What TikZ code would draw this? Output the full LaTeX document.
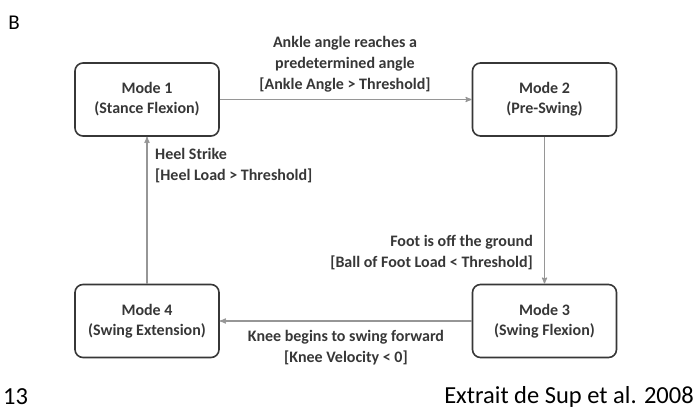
\documentclass[tikz,border=0pt]{standalone}
\usepackage{fontspec}
\setmainfont{Carlito}
\usepackage{tikz}
\usetikzlibrary{arrows}
\usetikzlibrary{positioning}
\definecolor{boxgray}{RGB}{55,55,55}
\definecolor{linegray}{RGB}{150,150,150}
\definecolor{textgray}{RGB}{55,55,55}
\tikzstyle{every node}+=[inner sep=0pt]
\tikzstyle{mode} = [rectangle, draw=boxgray, line width=1.6pt, rounded corners=8pt, minimum width=144pt, minimum height=73pt, text centered, text=textgray, font=\fontsize{16}{20}\selectfont\bfseries]
\tikzstyle{line} = [draw=linegray, line width=1.2pt, -stealth']
\tikzstyle{cond} = [text=textgray, font=\fontsize{16}{21}\selectfont\bfseries]
\tikzstyle{note} = [font=\fontsize{24.5}{28}\selectfont]

\begin{document}
\begin{tikzpicture}[x=1pt, y=-1pt, node distance=397.5pt, every text node part/.style={align=center}]
            \useasboundingbox (0,0) rectangle (700,410);
            % Place nodes
            \node [mode] (m1) at (147,99.5) {Mode 1\\(Stance Flexion)};
            \node [mode, right of=m1] (m2) {Mode 2\\(Pre-Swing)};
            \node [mode, below of=m2, node distance=221.5pt] (m3) {Mode 3\\(Swing Flexion)};
            \node [mode, below of=m1, node distance=221.5pt] (m4) {Mode 4\\(Swing Extension)};
            % Conditions
            \node [cond] (c12) at (345,64) {Ankle angle reaches a\\predetermined angle\\{[}Ankle Angle > Threshold{]}};
            \node [cond, anchor=east, every text node part/.style={align=right}] (c23) at (533,253) {Foot is off the ground\\{[}Ball of Foot Load < Threshold{]}};
            \node [cond] (c34) at (346,348) {Knee begins to swing forward\\{[}Knee Velocity < 0{]}};
            \node [cond, anchor=west, every text node part/.style={align=left}] (c41) at (155,166) {Heel Strike\\{[}Heel Load > Threshold{]}};
            % Notes
            \node [note, font=\fontsize{21}{24}\selectfont] (b) at (14,23) {B};
            \node [note, anchor=west] (page) at (3,397) {13};
            \node [note, anchor=east] (src) at (694,397) {Extrait de Sup et al. 2008};
            % Draw edges
            \path [line] (m1) -- (m2);
            \path [line] (m2) -- (m3);
            \path [line] (m3) -- (m4);
            \path [line] (m4) -- (m1);
          \end{tikzpicture}
\end{document}
